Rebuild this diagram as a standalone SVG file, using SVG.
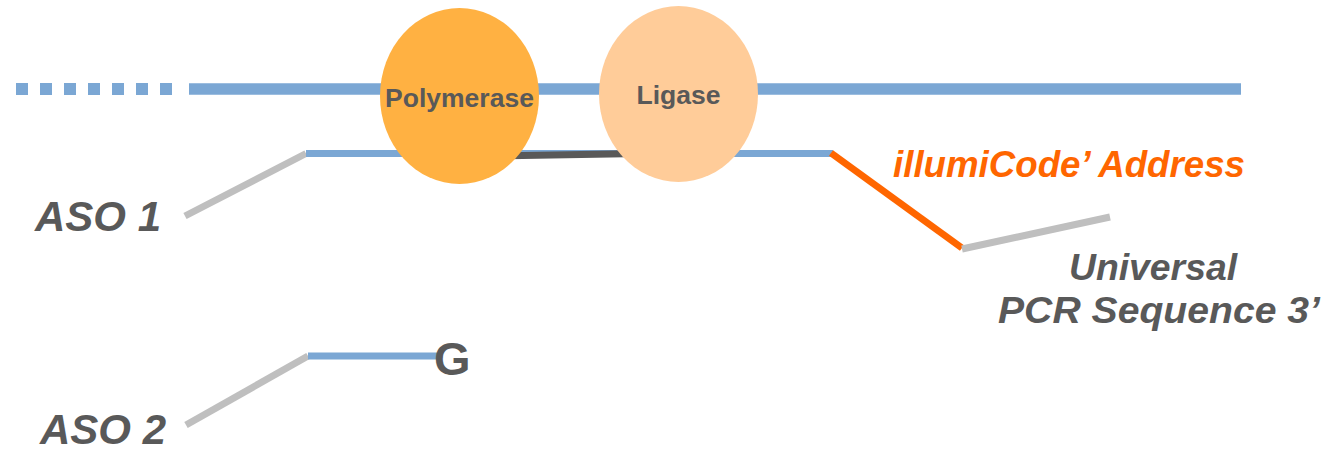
<svg xmlns="http://www.w3.org/2000/svg" width="1332" height="451" viewBox="0 0 1332 451">
<style>
.t{font-family:"Liberation Sans",Arial,sans-serif;font-weight:bold;fill:#595959}
.it{font-style:italic}
.blue{stroke:#7BA7D4;fill:none}
.gray{stroke:#BFBFBF;stroke-width:7;fill:none}
</style>
<rect width="1332" height="451" fill="#ffffff"/>
<g id="connectors">
<line x1="16" y1="89" x2="172" y2="89" stroke="#7BA7D4" stroke-width="12" stroke-dasharray="12 12"/>
<line class="blue" x1="189" y1="89" x2="1241" y2="89" stroke-width="11.5"/>
<polyline class="gray" points="185,216 306,153.5"/>
<line class="blue" x1="306" y1="153.5" x2="833" y2="153.5" stroke-width="7"/>
<line x1="490" y1="156" x2="640" y2="153.5" stroke="#595959" stroke-width="7"/>
<line x1="831" y1="153" x2="962" y2="248" stroke="#FF6600" stroke-width="7"/>
<line class="gray" x1="962" y1="249" x2="1110" y2="217"/>
<polyline class="gray" points="186,425 308,356"/>
<line class="blue" x1="308" y1="356" x2="437" y2="356" stroke-width="7"/>
</g>
<g id="polymerase">
<ellipse cx="459.5" cy="96" rx="79.5" ry="88" fill="#FFB142"/>
<text class="t" x="459.5" y="107" font-size="26.5" text-anchor="middle">Polymerase</text>
</g>
<g id="ligase">
<ellipse cx="678.5" cy="94" rx="79.5" ry="88" fill="#FFCC99"/>
<text class="t" x="678.5" y="104" font-size="26.5" text-anchor="middle">Ligase</text>
</g>
<g id="aso1">
<text class="t it" x="35" y="231" font-size="42">ASO 1</text>
</g>
<g id="aso2">
<text class="t it" x="40" y="444" font-size="42">ASO 2</text>
</g>
<g id="g-base">
<text class="t" x="434" y="375" font-size="47">G</text>
</g>
<g id="address">
<text class="t it" x="893" y="177" font-size="37" style="fill:#FF6600" textLength="352" lengthAdjust="spacingAndGlyphs">illumiCode’ Address</text>
</g>
<g id="universal">
<text class="t it" x="1069" y="280" font-size="37" textLength="168" lengthAdjust="spacingAndGlyphs">Universal</text>
<text class="t it" x="998" y="323" font-size="37" textLength="322" lengthAdjust="spacingAndGlyphs">PCR Sequence 3’</text>
</g>
</svg>
